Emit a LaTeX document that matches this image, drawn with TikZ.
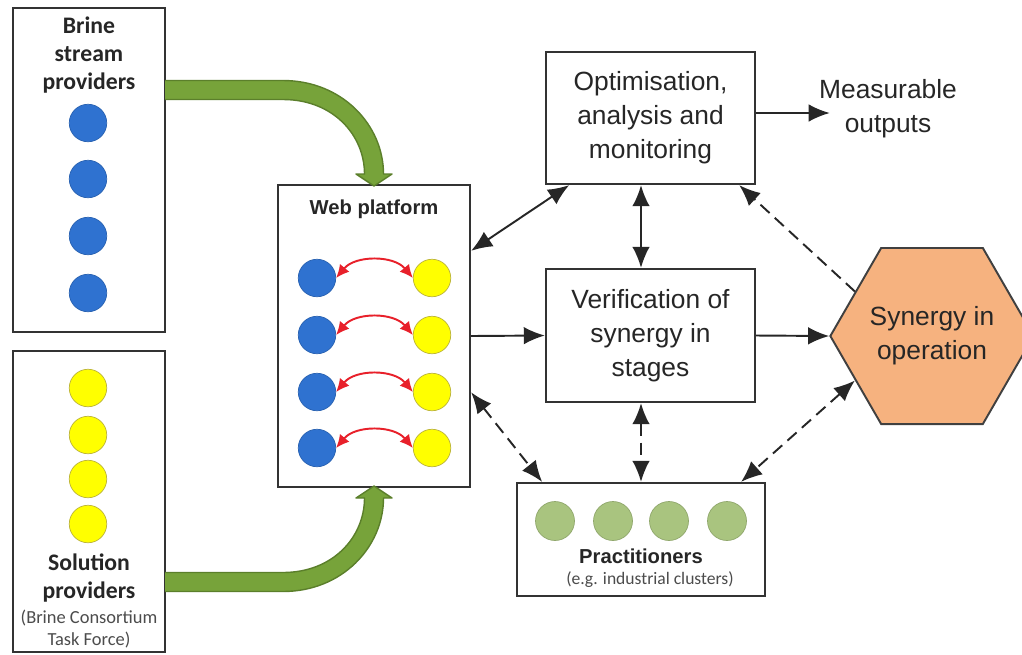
\documentclass[tikz,border=0pt]{standalone}
\usepackage{fontspec}
\setmainfont{Liberation Sans}
\newfontfamily\calibri{Carlito}
\usetikzlibrary{arrows.meta,shapes.geometric,calc}

\definecolor{dotblue}{HTML}{2F72D0}
\definecolor{dotyellow}{HTML}{FFFF00}
\definecolor{dotgreen}{HTML}{A9C47F}
\definecolor{flowgreen}{HTML}{77A33A}
\definecolor{flowedge}{HTML}{5B7F2B}
\definecolor{hexfill}{HTML}{F6B27F}
\definecolor{boxline}{HTML}{333333}
\definecolor{arcred}{HTML}{E8202A}

\tikzset{
 box/.style={draw=boxline,line width=1.3pt,fill=white,inner sep=0pt},
 bluedot/.style={circle,fill=dotblue,draw=dotblue!85!black,line width=0.4pt,minimum size=0.75cm,inner sep=0pt},
 yellowdot/.style={circle,fill=dotyellow,draw=yellow!70!black,line width=0.4pt,minimum size=0.75cm,inner sep=0pt},
 greendot/.style={circle,fill=dotgreen,draw=dotgreen!85!black,line width=0.4pt,minimum size=0.78cm,inner sep=0pt},
 bigtext/.style={align=center,font=\fontsize{15}{19.3}\selectfont,text=black!85},
 link/.style={line width=1.1pt,draw=black!85,-{Latex[length=12pt,width=10pt]}},
 twolink/.style={link,{Latex[length=12pt,width=10pt]}-{Latex[length=12pt,width=10pt]}},
 dashlink/.style={dash pattern=on 7pt off 4pt},
 redlink/.style={line width=1.1pt,draw=arcred,{Latex[length=7.5pt,width=7pt]}-{Latex[length=7.5pt,width=7pt]}},
 flow/.style={fill=flowgreen,draw=flowedge,line width=0.8pt,line join=round},
}

\begin{document}
\begin{tikzpicture}[x=0.02cm,y=-0.02cm]
 \useasboundingbox (0,0) rectangle (1022,654);

 % providers on the left
 \node[box,minimum width=3.04cm,minimum height=6.48cm] (brine) at (89,170) {};
 \node[align=center,font=\calibri\bfseries\fontsize{13.5}{16.2}\selectfont,text=black!85] (brinetxt) at (89,55) {Brine\\stream\\providers};
 \node[bluedot] (b1) at (88,123) {};
 \node[bluedot] (b2) at (88,179) {};
 \node[bluedot] (b3) at (88,236) {};
 \node[bluedot] (b4) at (88,293) {};

 \node[box,minimum width=3.04cm,minimum height=6.02cm] (sol) at (89,501.5) {};
 \node[yellowdot] (s1) at (88,388) {};
 \node[yellowdot] (s2) at (88,435) {};
 \node[yellowdot] (s3) at (88,479) {};
 \node[yellowdot] (s4) at (88,524) {};
 \node[align=center,font=\calibri\bfseries\fontsize{13.5}{16.2}\selectfont,text=black!85] (soltxt) at (89,578) {Solution\\providers};
 \node[align=center,font=\calibri\fontsize{10.5}{12.5}\selectfont,text=black!70] (solnote) at (89,629) {(Brine Consortium\\Task Force)};

 % web platform
 \node[box,minimum width=3.84cm,minimum height=6.04cm] (web) at (374,336) {};
 \node[font=\bfseries\fontsize{11.5}{13}\selectfont,text=black!85] (webtxt) at (374,209) {Web platform};
 \node[bluedot] (wb1) at (317,278) {};
 \node[bluedot] (wb2) at (317,335) {};
 \node[bluedot] (wb3) at (317,392) {};
 \node[bluedot] (wb4) at (317,448) {};
 \node[yellowdot] (wy1) at (432,278) {};
 \node[yellowdot] (wy2) at (432,335) {};
 \node[yellowdot] (wy3) at (432,392) {};
 \node[yellowdot] (wy4) at (432,448) {};
 \draw[redlink] (wb1.east) to[bend left=50] (wy1.west);
 \draw[redlink] (wb2.east) to[bend left=50] (wy2.west);
 \draw[redlink] (wb3.east) to[bend left=50] (wy3.west);
 \draw[redlink] (wb4.east) to[bend left=50] (wy4.west);

 % green feeds
 \draw[flow] (165,80.5) -- (283,80.5) .. controls (342,80.5) and (383.5,125) .. (383.5,174) -- (392,174) -- (374,186) -- (356,174) -- (364.5,174) .. controls (364.5,135) and (333,99.5) .. (283,99.5) -- (165,99.5);
 \draw[flow] (165,591.5) -- (283,591.5) .. controls (342,591.5) and (383.5,547) .. (383.5,498) -- (392,498) -- (374,486) -- (356,498) -- (364.5,498) .. controls (364.5,537) and (333,572.5) .. (283,572.5) -- (165,572.5);

 % right hand blocks
 \node[box,bigtext,minimum width=4.18cm,minimum height=2.64cm] (opt) at (650.5,118) {Optimisation,\\analysis and\\monitoring};
 \node[box,bigtext,minimum width=4.18cm,minimum height=2.66cm] (verif) at (650.5,335.5) {Verification of\\synergy in\\stages};
 \node[bigtext,inner sep=0pt] (meas) at (888,109) {Measurable\\outputs};
 \node[regular polygon,regular polygon sides=6,minimum size=3.96cm,inner sep=0pt,fill=hexfill,draw=black!75,line width=1.1pt,bigtext] (hex) at (932,336) {Synergy in\\operation};

 \node[box,minimum width=4.96cm,minimum height=2.26cm] (prac) at (641,539.5) {};
 \node[greendot] (p1) at (555,521) {};
 \node[greendot] (p2) at (613,521) {};
 \node[greendot] (p3) at (669,521) {};
 \node[greendot] (p4) at (727,521) {};
 \node[font=\bfseries\fontsize{11.5}{13}\selectfont,text=black!85] (practxt) at (641,556) {Practitioners};
 \node[font=\calibri\fontsize{10}{12}\selectfont,text=black!70] (pracnote) at (650,580) {(e.g. industrial clusters)};

 % connectors
 \draw[link] ($(opt.east)+(0,-5)$) -- ($(meas.west)+(11,4)$);
 \draw[twolink] ($(web.north east)!0.22!(web.south east)$) -- ($(opt.south west)!0.115!(opt.south east)$);
 \draw[twolink] (opt.south -| prac.north) -- (verif.north -| prac.north);
 \draw[link] (web.east) -- (verif.west);
 \draw[link] (verif.east) -- (hex.west);
 \draw[link,dashlink] (hex.150) -- ($(opt.south west)!0.92!(opt.south east)$);
 \draw[twolink,dashlink] (hex.210) -- ($(prac.north west)!0.9!(prac.north east)$);
 \draw[twolink,dashlink] (verif.south -| prac.north) -- (prac.north);
 \draw[twolink,dashlink] ($(web.north east)!0.685!(web.south east)$) -- ($(prac.north west)!0.105!(prac.north east)$);
\end{tikzpicture}
\end{document}
